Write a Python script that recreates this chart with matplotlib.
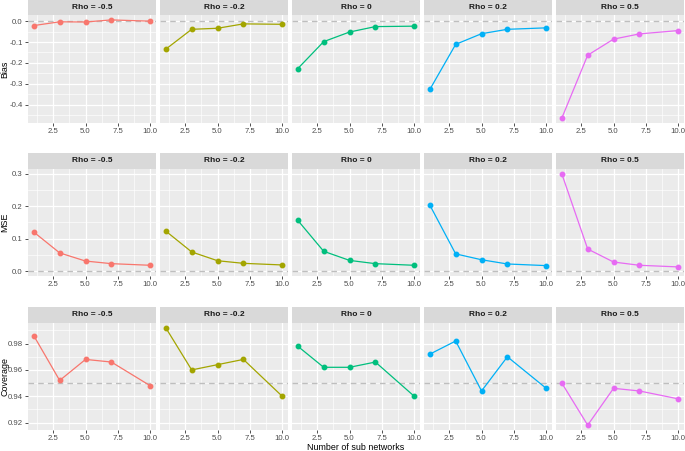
import numpy as np
import matplotlib
matplotlib.use('Agg')
import matplotlib.pyplot as plt
from matplotlib.ticker import FixedLocator

plt.rcParams['font.family'] = ['Liberation Sans', 'DejaVu Sans']

# data
n_sub = [1, 3, 5, 7, 10]
rhos = ['-0.5', '-0.2', '0', '0.2', '0.5']
colors = ['#F8766D', '#A3A500', '#00BF7D', '#00B0F6', '#E76BF3']

bias = [
    [-0.021, -0.003, -0.004, 0.006, 0.000],
    [-0.134, -0.039, -0.034, -0.013, -0.015],
    [-0.227, -0.098, -0.052, -0.026, -0.024],
    [-0.327, -0.111, -0.060, -0.039, -0.032],
    [-0.464, -0.163, -0.086, -0.061, -0.045],
]
mse = [
    [0.120, 0.056, 0.031, 0.023, 0.018],
    [0.123, 0.059, 0.032, 0.024, 0.019],
    [0.156, 0.061, 0.033, 0.023, 0.018],
    [0.203, 0.053, 0.035, 0.022, 0.017],
    [0.299, 0.068, 0.028, 0.018, 0.013],
]
coverage = [
    [0.986, 0.952, 0.968, 0.966, 0.948],
    [0.992, 0.960, 0.964, 0.968, 0.940],
    [0.978, 0.962, 0.962, 0.966, 0.940],
    [0.972, 0.982, 0.944, 0.970, 0.946],
    [0.950, 0.918, 0.946, 0.944, 0.938],
]

rows = [
    ('Bias', bias, 0.0, [0.0, -0.1, -0.2, -0.3, -0.4], '%.1f'),
    ('MSE', mse, 0.0, [0.0, 0.1, 0.2, 0.3], '%.1f'),
    ('Coverage', coverage, 0.95, [0.92, 0.94, 0.96, 0.98], '%.2f'),
]

W, H = 685, 451
fig = plt.figure(figsize=(W / 100, H / 100), dpi=100)


def add_px(x0, y0, x1, y1):
    return fig.add_axes([x0 / W, 1 - y1 / H, (x1 - x0) / W, (y1 - y0) / H])


col_x = [(28, 156), (160, 288), (292, 420), (424, 552), (556, 684)]
row_y = [(0, 15, 123), (153, 169, 276), (307, 323, 430)]

for r, (name, vals, ref, yt, fmt) in enumerate(rows):
    s0, p0, p1 = row_y[r]
    allv = np.concatenate([np.array(v) for v in vals] + [[ref]])
    lo, hi = allv.min(), allv.max()
    pad = (hi - lo) * 0.05
    ylim = (lo - pad, hi + pad)
    step = yt[1] - yt[0]
    minor_y = [t + step / 2 for t in yt] + [yt[0] - step / 2]
    for c in range(5):
        x0, x1 = col_x[c]
        ax = add_px(x0, p0, x1, p1)
        ax.set_facecolor('#EBEBEB')
        for sp in ax.spines.values():
            sp.set_visible(False)
        ax.set_xlim(0.55, 10.45)
        ax.set_ylim(*ylim)
        ax.set_xticks([2.5, 5.0, 7.5, 10.0])
        ax.set_xticklabels(['2.5', '5.0', '7.5', '10.0'])
        ax.xaxis.set_minor_locator(FixedLocator([1.25, 3.75, 6.25, 8.75]))
        ax.set_yticks(yt)
        ax.yaxis.set_minor_locator(FixedLocator(minor_y))
        ax.grid(which='major', color='white', lw=0.9)
        ax.grid(which='minor', color='white', lw=0.45)
        ax.set_axisbelow(True)
        ax.tick_params(which='major', length=2.5, width=0.6, color='#333333',
                       labelsize=5.6, labelcolor='#4D4D4D', pad=1.2)
        ax.tick_params(which='minor', length=0)
        if c == 0:
            ax.set_yticklabels([fmt % t for t in yt])
        else:
            ax.tick_params(axis='y', which='major', length=0, labelleft=False)
        ax.axhline(ref, color='#BEBEBE', lw=1.0, ls=(0, (4, 3)), zorder=1)
        ax.plot(n_sub, vals[c], color=colors[c], lw=0.9, marker='o', ms=3.2, zorder=3)

        st = add_px(x0, s0, x1, p0)
        st.set_facecolor('#D9D9D9')
        st.set_xticks([])
        st.set_yticks([])
        for sp in st.spines.values():
            sp.set_visible(False)
        st.text(0.5, 0.5, 'Rho = ' + rhos[c], ha='center', va='center',
                fontsize=6.0, fontweight='bold', color='#1A1A1A', transform=st.transAxes)

    # row title on the left
    fig.text(4.5 / W, 1 - ((p0 + p1) / 2) / H, name, rotation=90, ha='center', va='center',
             fontsize=6.4)

fig.text(356 / W, 1 - 447 / H, 'Number of sub networks', ha='center', va='center', fontsize=6.4)

fig.savefig('out.png', dpi=100)
